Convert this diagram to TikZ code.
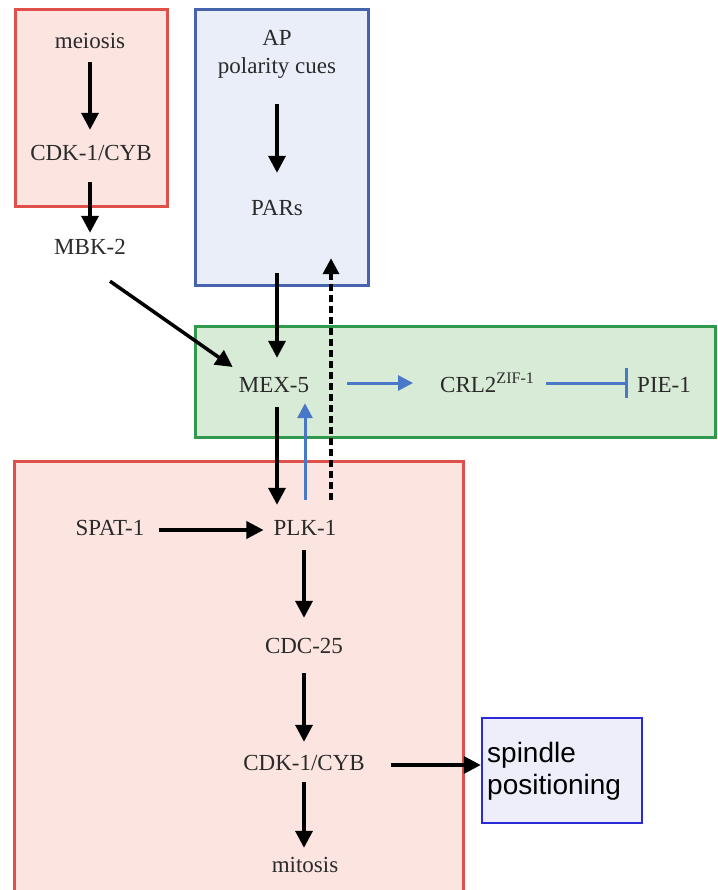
\documentclass[tikz,border=0pt]{standalone}
\usepackage{fontspec}
\setmainfont{Liberation Serif}
\newfontfamily\armsans{Liberation Sans}
\usetikzlibrary{arrows.meta}
\definecolor{redfill}{HTML}{FCE4E0}
\definecolor{redline}{HTML}{E0504A}
\definecolor{bluefill}{HTML}{EAEEF8}
\definecolor{blueline}{HTML}{4664AE}
\definecolor{greenfill}{HTML}{D8EBD6}
\definecolor{greenline}{HTML}{2F9A4C}
\definecolor{spfill}{HTML}{EEEEFB}
\definecolor{spline}{HTML}{2A2AD8}
\definecolor{barrow}{HTML}{4A78C8}
\definecolor{txt}{HTML}{2A2A2A}
\tikzset{
  lbl/.style={inner sep=0pt, text height=16pt, text depth=5pt, font=\fontsize{23}{27}\selectfont, text=txt},
  redbox/.style={fill=redfill, draw=redline, line width=3pt},
  bluebox/.style={fill=bluefill, draw=blueline, line width=3pt},
  greenbox/.style={fill=greenfill, draw=greenline, line width=3pt},
  arr/.style={line width=3.5pt, -{Triangle[length=17pt,width=17pt]}},
  barr/.style={line width=3pt, draw=barrow, -{Triangle[length=15pt,width=15pt]}, barrow},
  dasharr/.style={line width=3.5pt, dash pattern=on 7pt off 4pt, -{Triangle[length=16pt,width=16pt]}},
  inhib/.style={line width=3pt, draw=barrow, -{Bar[width=30pt,line width=3.5pt]}, barrow}
}
\begin{document}
\begin{tikzpicture}[x=1pt,y=-1pt]
\useasboundingbox (0,0) rectangle (717,890);
\clip (0,0) rectangle (717,890);
% boxes
\draw[redbox] (15,10) rectangle (167,207);
\draw[bluebox] (195,10) rectangle (368,285);
\draw[greenbox] (195,326) rectangle (715.5,437);
\draw[redbox] (14,461) rectangle (463,900);
% labels
\node[lbl] (meiosis) at (90,43) {meiosis};
\node[lbl] (cdka) at (91,155) {CDK-1/CYB};
\node[lbl] (mbk) at (90,249) {MBK-2};
\node[lbl] (ap) at (277,40) {AP};
\node[lbl] (pol) at (277,68) {polarity cues};
\node[lbl] (pars) at (277,210) {PARs};
\node[lbl] (mex) at (274,387) {MEX-5};
\node[lbl, anchor=west] (crl) at (440,387) {CRL2\textsuperscript{ZIF-1}};
\node[lbl, anchor=west] (pie) at (637,387) {PIE-1};
\node[lbl] (spat) at (110,530) {SPAT-1};
\node[lbl] (plk) at (305,530) {PLK-1};
\node[lbl] (cdc) at (304,648) {CDC-25};
\node[lbl] (cdkb) at (304,765) {CDK-1/CYB};
\node[lbl] (mitosis) at (305,867) {mitosis};
\node[draw=spline, fill=spfill, line width=2.5pt, minimum width=160pt, minimum height=105pt, inner sep=0pt] (spindle) at (562,770.5) {};
\node[anchor=west, align=left, inner sep=0pt, font=\armsans\fontsize{28}{32}\selectfont, text=black] (sptext) at (487,771) {spindle\\positioning};
% arrows top-left
\draw[arr] ([yshift=-8.5pt,xshift=0pt]meiosis.south) -- ([yshift=14.5pt,xshift=-1pt]cdka.north);
\draw[arr] ([yshift=-16.5pt,xshift=-1pt]cdka.south) -- ([yshift=5.5pt]mbk.north);
\draw[arr] ([yshift=-25.5pt]pol.south) -- ([yshift=26.5pt]pars.north);
\draw[arr] ([yshift=-52.5pt,xshift=0pt]pars.south) -- ([yshift=18.5pt,xshift=3pt]mex.north);
\draw[arr] ([xshift=20pt,yshift=-21.5pt]mbk.south) -- ([xshift=-6pt,yshift=20pt]mex.west);
% green row
\draw[barr] ([xshift=38pt,yshift=4pt]mex.east) -- ([xshift=-27pt,yshift=4pt]crl.west);
\draw[inhib] ([xshift=11pt,yshift=4pt]crl.east) -- ([xshift=-9pt,yshift=4pt]pie.west);
% vertical links between MEX-5 and PLK-1
\draw[arr] ([xshift=3pt,yshift=-9.5pt]mex.south) -- ([xshift=-28pt,yshift=14.5pt]plk.north);
\draw[barr] ([yshift=19.5pt]plk.north) -- ([xshift=31pt,yshift=-5.5pt]mex.south);
\draw[dasharr] ([xshift=26pt,yshift=19.5pt]plk.north) -- ([xshift=54pt,yshift=-37.5pt]pars.south);
% bottom chain
\draw[arr] ([xshift=14pt]spat.east) -- ([xshift=-10pt]plk.west);
\draw[arr] ([xshift=-1pt,yshift=-9.5pt]plk.south) -- ([yshift=19.5pt]cdc.north);
\draw[arr] ([yshift=-14.5pt]cdc.south) -- ([yshift=12.5pt]cdkb.north);
\draw[arr] ([yshift=-6.5pt]cdkb.south) -- ([xshift=-1pt,yshift=8.5pt]mitosis.north);
\draw[arr] ([xshift=26pt]cdkb.east) -- ([yshift=5.5pt]spindle.west);
\end{tikzpicture}
\end{document}
